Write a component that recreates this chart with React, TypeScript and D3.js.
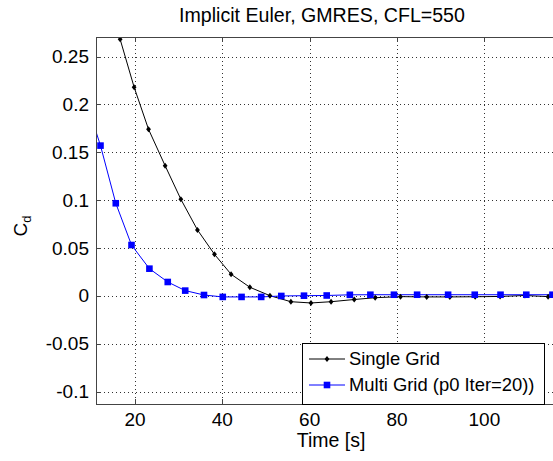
import React from "react";
import * as d3 from "d3";

const W = 553;
const H = 461;

const xTicks = [20, 40, 60, 80, 100];
const yTicks = [-0.1, -0.05, 0, 0.05, 0.1, 0.15, 0.2, 0.25];
const yTickLabels = ["-0.1", "-0.05", "0", "0.05", "0.1", "0.15", "0.2", "0.25"];

const singleT = [13.3, 16.6, 19.8, 23.1, 26.9, 30.5, 34.3, 38.2, 42.0, 46.3, 50.9, 55.7, 60.3, 64.9, 70.2, 75.0, 80.8, 86.8, 92.1, 97.9, 103.6, 109.3, 114.6, 120.0];
const singleCd = [0.325, 0.268, 0.218, 0.174, 0.136, 0.101, 0.069, 0.0435, 0.0227, 0.0091, 0.0003, -0.006, -0.0073, -0.006, -0.0037, -0.0018, -0.0007, -0.001, -0.001, -0.0008, -0.0005, 0.0005, -0.0007, -0.0005];

const multiT = [8.7, 12.1, 15.6, 19.2, 23.3, 27.5, 31.5, 35.8, 40.1, 44.4, 48.9, 53.5, 58.7, 63.9, 69.2, 73.9, 79.3, 84.6, 91.7, 97.8, 103.7, 109.6, 115.6, 121.5];
const multiCd = [0.205, 0.157, 0.0968, 0.0532, 0.0285, 0.0146, 0.0056, 0.001, -0.001, -0.001, -0.001, 0.0, 0.0003, 0.0005, 0.0012, 0.0013, 0.0013, 0.0013, 0.0013, 0.0013, 0.0013, 0.0013, 0.0013, 0.0013];

const seriesNames = ["Single Grid", "Multi Grid (p0 Iter=20))"];

const left = 96;
const top = 37;
const bottom = 404;
const xMin = 11.07;
const xMax = 119.5;
const pxPerUnit = 4.367;
const right = left + (xMax - xMin) * pxPerUnit;

const FONT = "'Liberation Sans', Arial, Helvetica, sans-serif";
const FS_TICK = 19;
const FS_TITLE = 19.6;
const FS_XLABEL = 19.5;
const FS_LEG = 18.4;

export default function App() {
  const x = d3.scaleLinear().domain([xMin, xMax]).range([left, right]);
  const y = d3.scaleLinear().domain([-0.1128, 0.2704]).range([bottom, top]);

  const single = singleT.map((t, i) => [t, singleCd[i]] as [number, number]);
  const multi = multiT.map((t, i) => [t, multiCd[i]] as [number, number]);
  const line = d3.line<[number, number]>().x((d) => x(d[0])).y((d) => y(d[1]));

  const diamond = (cx: number, cy: number, r: number) =>
    `M${cx},${cy - r}L${cx + r * 0.8},${cy}L${cx},${cy + r}L${cx - r * 0.8},${cy}Z`;

  const legX = 302;
  const legY = 343;
  const legW = 242;
  const legH = 61;

  return (
    <svg width={W} height={H} style={{ position: "absolute", left: 0, top: 0, background: "#fff" }}>
      <defs>
        <clipPath id="plotClip">
          <rect x={left} y={top} width={right - left} height={bottom - top} />
        </clipPath>
      </defs>
      <rect x={0} y={0} width={W} height={H} fill="#fff" />
      {/* grid */}
      <g stroke="#000" strokeWidth={1} strokeDasharray="1,3" opacity={0.8}>
        {xTicks.map((t) => (
          <line key={"gx" + t} x1={Math.round(x(t)) + 0.5} x2={Math.round(x(t)) + 0.5} y1={top} y2={bottom} />
        ))}
        {yTicks.map((t) => (
          <line key={"gy" + t} x1={left} x2={right} y1={Math.round(y(t)) + 0.5} y2={Math.round(y(t)) + 0.5} />
        ))}
      </g>
      {/* data */}
      <g clipPath="url(#plotClip)">
        <path d={line(single) || ""} fill="none" stroke="#000" strokeWidth={1} />
        <path d={line(multi) || ""} fill="none" stroke="#0000ff" strokeWidth={1} />
        {single.map((d, i) => (
          <path key={"s" + i} d={diamond(x(d[0]), y(d[1]), 3)} fill="#000" />
        ))}
        {multi.map((d, i) => (
          <rect key={"m" + i} x={x(d[0]) - 3.3} y={y(d[1]) - 3.3} width={6.6} height={6.6} fill="#0000ff" />
        ))}
      </g>
      {/* axes box */}
      <rect x={left + 0.5} y={top + 0.5} width={right - left} height={bottom - top} fill="none" stroke="#444" strokeWidth={1} />
      {/* ticks */}
      <g stroke="#444" strokeWidth={1}>
        {xTicks.map((t) => (
          <g key={"tx" + t}>
            <line x1={Math.round(x(t)) + 0.5} x2={Math.round(x(t)) + 0.5} y1={bottom} y2={bottom - 5} />
            <line x1={Math.round(x(t)) + 0.5} x2={Math.round(x(t)) + 0.5} y1={top} y2={top + 5} />
          </g>
        ))}
        {yTicks.map((t) => (
          <line key={"ty" + t} x1={left} x2={left + 5} y1={Math.round(y(t)) + 0.5} y2={Math.round(y(t)) + 0.5} />
        ))}
      </g>
      {/* tick labels */}
      <g fontFamily={FONT} fontSize={FS_TICK} fill="#000">
        {xTicks.map((t) => (
          <text key={"lx" + t} x={x(t)} y={bottom + 22} textAnchor="middle">
            {t}
          </text>
        ))}
        {yTicks.map((t, i) => (
          <text key={"ly" + t} x={left - 7} y={y(t) + 6.5} textAnchor="end">
            {yTickLabels[i]}
          </text>
        ))}
      </g>
      {/* title and labels */}
      <text x={322} y={22} textAnchor="middle" fontFamily={FONT} fontSize={FS_TITLE}>
        Implicit Euler, GMRES, CFL=550
      </text>
      <text x={331} y={447} textAnchor="middle" fontFamily={FONT} fontSize={FS_XLABEL}>
        Time [s]
      </text>
      <text transform="translate(27,226) rotate(-90)" textAnchor="middle" fontFamily={FONT} fontSize={FS_TICK}>
        C<tspan fontSize={13} dy={4}>d</tspan>
      </text>
      {/* legend */}
      <rect x={legX + 0.5} y={legY + 0.5} width={legW} height={legH} fill="#fff" stroke="#000" strokeWidth={1} />
      <g fontFamily={FONT} fontSize={FS_LEG}>
        <line x1={legX + 7} x2={legX + 43} y1={legY + 16} y2={legY + 16} stroke="#000" strokeWidth={1} />
        <path d={diamond(legX + 25, legY + 16, 3)} fill="#000" />
        <text x={legX + 47} y={legY + 22}>{seriesNames[0]}</text>
        <line x1={legX + 7} x2={legX + 43} y1={legY + 42} y2={legY + 42} stroke="#0000ff" strokeWidth={1} />
        <rect x={legX + 25 - 3.3} y={legY + 42 - 3.3} width={6.6} height={6.6} fill="#0000ff" />
        <text x={legX + 47} y={legY + 48}>{seriesNames[1]}</text>
      </g>
    </svg>
  );
}
